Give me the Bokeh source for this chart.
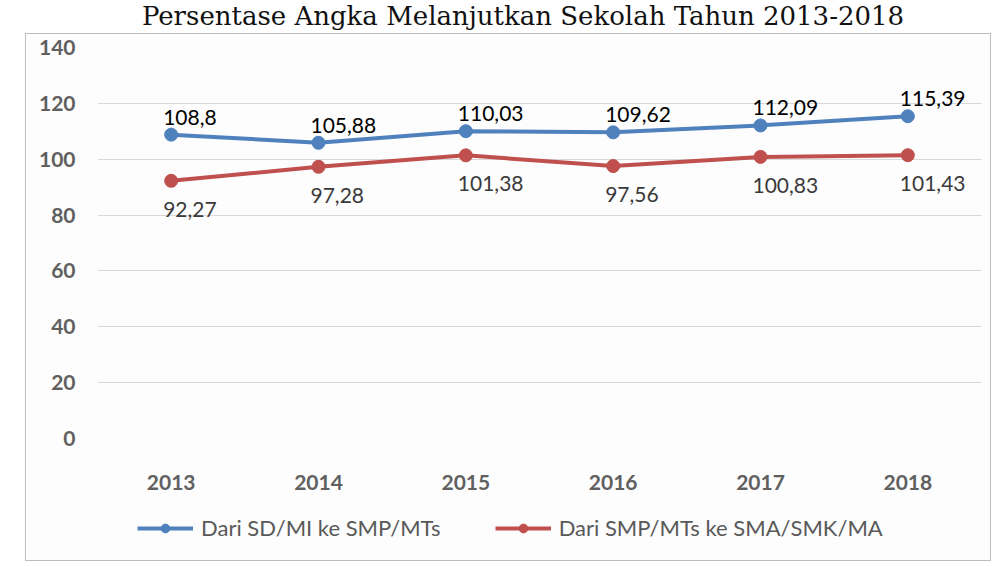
from bokeh.plotting import figure
from bokeh.models import ColumnDataSource, Legend, LegendItem, Div, FixedTicker
from bokeh.layouts import column
from bokeh.core.properties import value
from bokeh.embed import file_html
from bokeh.resources import INLINE

title_text = "Persentase  Angka Melanjutkan Sekolah Tahun 2013-2018"
years = ["2013", "2014", "2015", "2016", "2017", "2018"]
sd_smp = [108.8, 105.88, 110.03, 109.62, 112.09, 115.39]
smp_sma = [92.27, 97.28, 101.38, 97.56, 100.83, 101.43]
series_names = ["Dari SD/MI ke SMP/MTs", "Dari SMP/MTs ke SMA/SMK/MA"]
y_ticks = [0, 20, 40, 60, 80, 100, 120, 140]

BLUE = "#4F81BD"
RED = "#C0504D"
FONT = "Lato"
BG = "#fdfdfd"

def fmt(v):
    return str(v).replace(".", ",")

src = ColumnDataSource(dict(
    x=years, a=sd_smp, b=smp_sma,
    la=[fmt(v) for v in sd_smp], lb=[fmt(v) for v in smp_sma],
))

p = figure(x_range=years, y_range=(0, 140), width=964, height=467,
           output_backend="svg", toolbar_location=None,
           min_border_left=71, min_border_right=9, min_border_top=13,
           min_border_bottom=63,
           background_fill_color=BG, border_fill_color=BG)
p.outline_line_color = None

p.yaxis.ticker = FixedTicker(ticks=y_ticks)
for ax in (p.xaxis[0], p.yaxis[0]):
    ax.axis_line_color = None
    ax.major_tick_line_color = None
    ax.minor_tick_line_color = None
    ax.major_label_text_font = FONT
    ax.major_label_text_font_size = "21px"
    ax.major_label_text_font_style = "bold"
    ax.major_label_text_color = "#606060"
p.xaxis.major_label_standoff = 30
p.yaxis.major_label_standoff = 16
p.xgrid.grid_line_color = None
p.ygrid.grid_line_color = "#d9d9d9"
p.ygrid.grid_line_width = 1

p.line("x", "a", source=src, line_color=BLUE, line_width=4)
p.scatter("x", "a", source=src, size=13, fill_color=BLUE, line_color=BLUE)
p.line("x", "b", source=src, line_color=RED, line_width=4)
p.scatter("x", "b", source=src, size=13, fill_color=RED, line_color=RED)

p.text("x", "a", text="la", source=src, text_align="left", text_baseline="bottom",
       x_offset=-8, y_offset=-10, text_font=value(FONT), text_font_size="21px",
       text_color="#000000")
p.text("x", "b", text="lb", source=src, text_align="left", text_baseline="top",
       x_offset=-8, y_offset=21, text_font=value(FONT), text_font_size="21px",
       text_color="#3a3a3a")

# legend strip below the plot (dummy points lie outside its visible range)
lf = figure(width=964, height=59, x_range=(0, 1), y_range=(0, 1),
            output_backend="svg", toolbar_location=None,
            min_border_left=0, min_border_right=0, min_border_top=0,
            min_border_bottom=0, background_fill_color=BG, border_fill_color=BG)
lf.axis.visible = False
lf.grid.grid_line_color = None
lf.outline_line_color = None
e1 = lf.line(x=[-10, -9], y=[-10, -10], line_color=BLUE, line_width=4)
m1 = lf.scatter(x=[-10], y=[-10], size=13, fill_color=BLUE, line_color=BLUE)
e2 = lf.line(x=[-10, -9], y=[-10, -10], line_color=RED, line_width=4)
m2 = lf.scatter(x=[-10], y=[-10], size=13, fill_color=RED, line_color=RED)
legend = Legend(items=[LegendItem(label=series_names[0], renderers=[e1, m1]),
                       LegendItem(label=series_names[1], renderers=[e2, m2])],
                orientation="horizontal", location=(40, 19),
                glyph_width=56, glyph_height=22, label_height=22,
                label_standoff=8, spacing=54,
                label_text_font=FONT, label_text_font_size="22px",
                label_text_color="#595959", background_fill_alpha=0,
                border_line_color=None, margin=0, padding=4)
lf.add_layout(legend)

title = Div(text=title_text, width=980, height=24,
            styles={"font-family": "'DejaVu Serif', serif", "font-size": "26px",
                    "text-align": "center", "width": "980px", "color": "#111",
                    "line-height": "22px", "position": "relative", "left": "28px"})

box = column(p, lf, spacing=0,
             styles={"outline": "1px solid #bdbdbd"})
box.margin = (0, 0, 0, 26)
layout = column(title, box, spacing=0)
open("out.html", "w").write(file_html(layout, INLINE))
